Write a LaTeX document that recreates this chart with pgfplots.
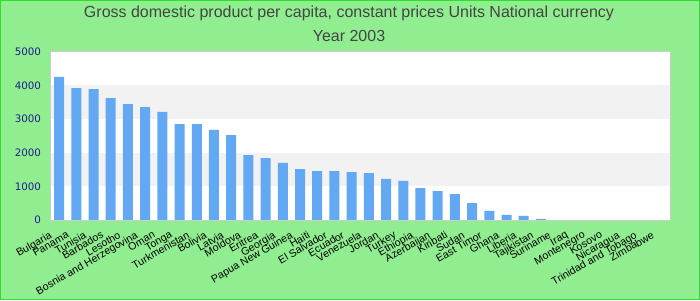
\documentclass[border=0pt]{standalone}
\usepackage{pgfplots}
\pgfplotsset{compat=1.18}
\usepackage{fontspec}
\setmainfont{Liberation Sans}
\newfontfamily\dejavu{DejaVu Sans}
\definecolor{bgreen}{RGB}{144,238,144}
\definecolor{edgegreen}{RGB}{40,225,40}
\definecolor{barblue}{RGB}{98,168,242}
\definecolor{bandgrey}{RGB}{242,242,242}
\definecolor{titlegrey}{RGB}{68,68,68}
\definecolor{ticknavy}{RGB}{30,30,140}
\begin{document}
\begin{tikzpicture}[x=1pt,y=1pt]
\fill[bgreen] (0,0) rectangle (700,300);
\draw[edgegreen,line width=1.2pt] (0.6,0.6) rectangle (699.4,299.4);
\node[anchor=base,text=titlegrey,font=\fontsize{16}{18}\selectfont] at (349,282) {Gross domestic product per capita, constant prices Units National currency};
\node[anchor=base,text=titlegrey,font=\fontsize{16}{18}\selectfont] at (349,258) {Year 2003};
\begin{axis}[
  at={(50.5pt,80pt)}, anchor=south west,
  scale only axis, width=619.5pt, height=168.3pt,
  xmin=-0.5, xmax=35.5, ymin=0, ymax=5000,
  ybar, bar width=10pt,
  axis background/.style={fill=white},
  axis line style={draw=black!20, line width=0.8pt},
  ytick={0,1000,2000,3000,4000,5000},
  xtick=data,
  xticklabels={Bulgaria,Panama,Tunisia,Barbados,Lesotho,Bosnia and Herzegovina,Oman,Tonga,Turkmenistan,Bolivia,Latvia,Moldova,Eritrea,Georgia,Papua New Guinea,Haiti,El Salvador,Ecuador,Venezuela,Jordan,Turkey,Ethiopia,Azerbaijan,Kiribati,Sudan,East Timor,Ghana,Liberia,Tajikistan,Suriname,Iraq,Montenegro,Kosovo,Nicaragua,Trinidad and Tobago,Zimbabwe},
  major tick length=0pt,
  /pgf/number format/assume math mode=true,
  /pgf/number format/1000 sep={},
  yticklabel style={font=\dejavu\fontsize{10.3}{12}\selectfont, text=ticknavy, xshift=-6pt},
  xticklabel style={font=\fontsize{10.6}{12}\selectfont, xshift=-10pt, yshift=-9pt, rotate=30, anchor=north east, inner sep=1pt},
  clip=false,
]
\fill[bandgrey] (axis cs:-0.5,1000) rectangle (axis cs:35.5,2000);
\fill[bandgrey] (axis cs:-0.5,3000) rectangle (axis cs:35.5,4000);
\addplot[fill=barblue, draw=none] coordinates {
(0,4250) (1,3920) (2,3890) (3,3620) (4,3445) (5,3355) (6,3210) (7,2850) (8,2850) (9,2675)
(10,2525) (11,1930) (12,1840) (13,1695) (14,1515) (15,1455) (16,1455) (17,1425) (18,1395) (19,1220)
(20,1160) (21,950) (22,860) (23,770) (24,505) (25,270) (26,150) (27,120) (28,30) (29,0)
(30,0) (31,0) (32,0) (33,0) (34,0) (35,0)};
\draw[black!20, line width=0.8pt] (rel axis cs:0,0) rectangle (rel axis cs:1,1);
\end{axis}
\end{tikzpicture}
\end{document}
